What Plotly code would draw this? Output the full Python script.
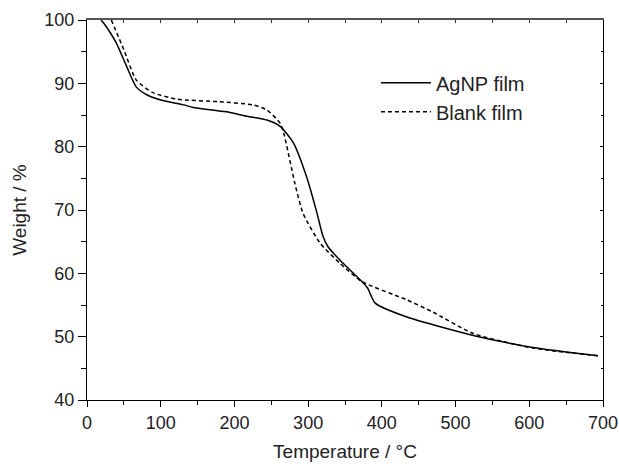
import plotly.graph_objects as go

# -- curvas de TGA
temp_agnp = [19, 22, 31, 40, 54, 67, 81, 99, 131, 144, 189, 217, 244, 262, 280, 298, 312, 320,
             327, 343, 373, 381, 391, 434, 524, 605, 693]
peso_agnp = [100, 99.6, 98.1, 96.3, 92.6, 89.4, 88.2, 87.4, 86.6, 86.2, 85.5, 84.8, 84.2, 83.2, 80.6,
             75.2, 69.5, 65.9, 64.2, 62.1, 58.7, 57.6, 55.3, 53.1, 50.2, 48.3, 47.0]

temp_blank = [33, 50, 67, 90, 122, 178, 225, 244, 262, 267, 282, 293, 316, 343, 373, 434, 469, 524,
              605, 693]
peso_blank = [100, 95.3, 90.5, 88.5, 87.5, 87.1, 86.6, 85.8, 83.7, 82.1, 74.2, 69.5, 64.8, 61.6, 58.7,
              55.8, 53.9, 50.5, 48.2, 47.0]

fonte = dict(family='Liberation Sans, Arial, sans-serif', size=18, color='#222')

fig = go.Figure()
fig.add_trace(go.Scatter(x=temp_agnp, y=peso_agnp, mode='lines', name='AgNP film',
                         line=dict(color='black', width=1.5, shape='spline', smoothing=0.6)))
fig.add_trace(go.Scatter(x=temp_blank, y=peso_blank, mode='lines', name='Blank film',
                         line=dict(color='black', width=1.5, dash='4px,3px', shape='spline', smoothing=0.6)))
# -- trace vazio só para os eixos do topo/direita aparecerem
fig.add_trace(go.Scatter(x=[None], y=[None], xaxis='x2', yaxis='y2', showlegend=False, hoverinfo='skip'))

eixo = dict(showline=True, linecolor='black', linewidth=1.2, showgrid=False, zeroline=False,
            ticks='outside', tickcolor='black', tickfont=fonte, automargin=False)

fig.update_layout(
    xaxis=dict(**eixo, range=[0, 700], dtick=100, ticklen=6,
               minor=dict(ticks='outside', ticklen=4, dtick=50, tickcolor='black'),
               title=dict(text='Temperature / °C', font=dict(fonte, size=19), standoff=12)),
    yaxis=dict(**eixo, range=[40, 100], dtick=10, ticklen=8,
               minor=dict(ticks='outside', ticklen=5, dtick=5, tickcolor='black'),
               title=dict(text='Weight / %', font=dict(fonte, size=19), standoff=12)),
    # -- eixos espelhados (topo e direita) com ticks para dentro
    xaxis2=dict(overlaying='x', side='top', anchor='y2', range=[0, 700], dtick=100, showline=True,
                linecolor='#555', linewidth=2, showgrid=False, zeroline=False, showticklabels=False,
                ticks='inside', ticklen=3, tickcolor='#333', automargin=False,
                minor=dict(ticks='inside', ticklen=3, dtick=50, tickcolor='#333')),
    yaxis2=dict(overlaying='y', side='right', anchor='x2', range=[40, 100], dtick=10, showline=True,
                linecolor='black', linewidth=1.2, showgrid=False, zeroline=False, showticklabels=False,
                ticks='inside', ticklen=3, tickcolor='black', automargin=False,
                minor=dict(ticks='inside', ticklen=2, dtick=5, tickcolor='black')),
    width=619, height=464,
    margin=dict(l=87, r=16, t=20, b=64),
    plot_bgcolor='white', paper_bgcolor='white',
    font=fonte,
    legend=dict(x=0.56, y=0.886, xanchor='left', yanchor='top', bgcolor='rgba(0,0,0,0)',
                font=dict(fonte, size=20), itemwidth=50, tracegroupgap=0),
)

# -- tira a margem padrão do body para o gráfico ocupar a janela toda
fig.write_html("out.html", config={'displayModeBar': False},
               post_script="document.body.style.margin='0';")
